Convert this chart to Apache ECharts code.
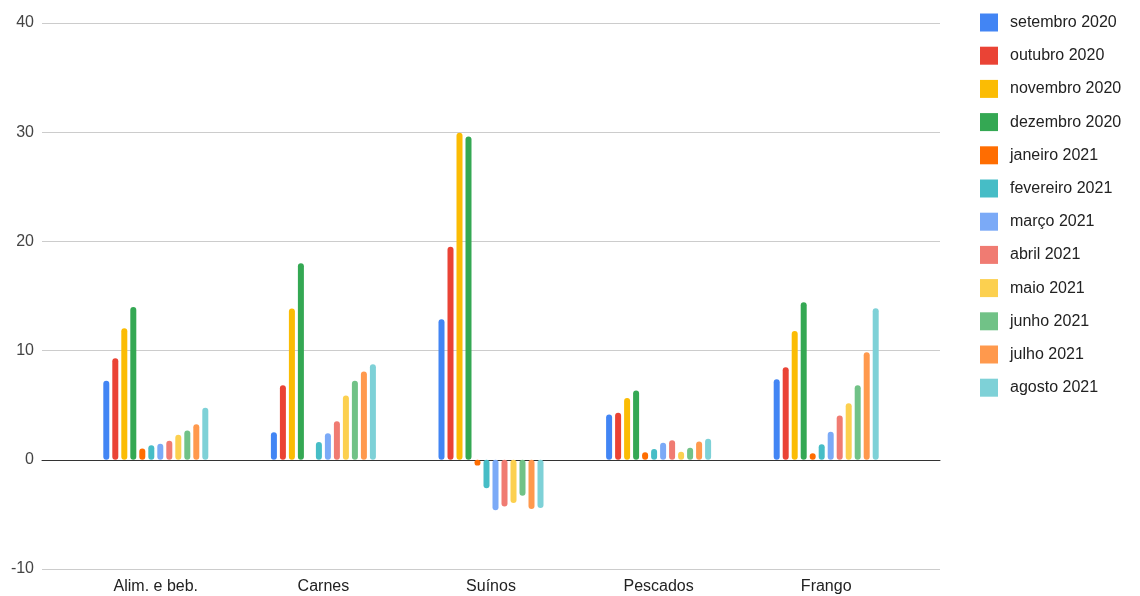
<!DOCTYPE html>
<html>
<head>
<meta charset="utf-8">
<script src="https://cdn.jsdelivr.net/npm/echarts@6/dist/echarts.min.js"></script>
<style>
html,body{margin:0;padding:0;background:#fff;}
#chart{width:1140px;height:596px;}
</style>
</head>
<body>
<div id="chart"></div>
<script>
const categories = ['Alim. e beb.', 'Carnes', 'Suínos', 'Pescados', 'Frango'];
const seriesNames = ['setembro 2020','outubro 2020','novembro 2020','dezembro 2020','janeiro 2021','fevereiro 2021','março 2021','abril 2021','maio 2021','junho 2021','julho 2021','agosto 2021'];
const set2020 = [7.25, 2.53, 12.87, 4.15, 7.38];
const out2020 = [9.3, 6.83, 19.52, 4.3, 8.48];
const nov2020 = [12.05, 13.85, 29.95, 5.67, 11.8];
const dez2020 = [14.0, 18.0, 29.6, 6.34, 14.43];
const jan2021 = [1.03, 0, -0.52, 0.7, 0.61];
const fev2021 = [1.34, 1.62, -2.6, 1.0, 1.43];
const mar2021 = [1.46, 2.44, -4.63, 1.56, 2.56];
const abr2021 = [1.74, 3.54, -4.27, 1.8, 4.06];
const mai2021 = [2.29, 5.89, -3.96, 0.73, 5.18];
const jun2021 = [2.68, 7.23, -3.29, 1.1, 6.83];
const jul2021 = [3.26, 8.08, -4.51, 1.68, 9.85];
const ago2021 = [4.76, 8.75, -4.42, 1.92, 13.88];
const yTicks = [-10, 0, 10, 20, 30, 40];

const values = [set2020,out2020,nov2020,dez2020,jan2021,fev2021,mar2021,abr2021,mai2021,jun2021,jul2021,ago2021];
const colors = ['#4285F4','#EA4335','#FBBC04','#34A853','#FF6D01','#46BDC6','#7BAAF7','#F07B72','#FCD04F','#71C287','#FF994D','#7ED1D7'];

const chart = echarts.init(document.getElementById('chart'));
chart.setOption({
  animation: false,
  color: colors,
  legend: {
    orient: 'vertical',
    left: 980,
    top: 13.5,
    padding: 0,
    itemWidth: 18,
    itemHeight: 18,
    itemGap: 15.2,
    icon: 'rect',
    textStyle: { fontSize: 16, color: '#222', fontFamily: 'Arial, "Liberation Sans", sans-serif', padding: [0,0,0,7] },
    data: seriesNames
  },
  grid: [
    { left: 42, right: 200, top: 23, bottom: 27 },
    { left: 72, right: 230, top: 23, bottom: 27 }
  ],
  xAxis: [
    { type: 'category', gridIndex: 0, data: categories,
      axisLine: { show: true, onZero: true, lineStyle: { color: '#333', width: 1 } },
      axisTick: { show: false }, axisLabel: { show: false }, splitLine: { show: false } },
    { type: 'category', gridIndex: 1, data: categories,
      axisLine: { show: false, onZero: false }, axisTick: { show: false },
      axisLabel: { show: true, fontSize: 16, color: '#222', margin: 10, fontFamily: 'Arial, "Liberation Sans", sans-serif' } }
  ],
  yAxis: [
    { type: 'value', gridIndex: 0, min: yTicks[0], max: yTicks[yTicks.length-1], interval: 10,
      axisLine: { show: false }, axisTick: { show: false },
      axisLabel: { fontSize: 16, color: '#444', margin: 8, fontFamily: 'Arial, "Liberation Sans", sans-serif' },
      splitLine: { lineStyle: { color: '#cccccc', width: 1 } } },
    { type: 'value', gridIndex: 1, min: yTicks[0], max: yTicks[yTicks.length-1], interval: 10,
      show: false, splitLine: { show: false } }
  ],
  series: seriesNames.map((name, i) => ({
    name: name,
    type: 'bar',
    xAxisIndex: 1,
    yAxisIndex: 1,
    data: values[i],
    barWidth: 6,
    barGap: '50%',
    itemStyle: { borderRadius: 3 }
  }))
});
</script>
</body>
</html>
